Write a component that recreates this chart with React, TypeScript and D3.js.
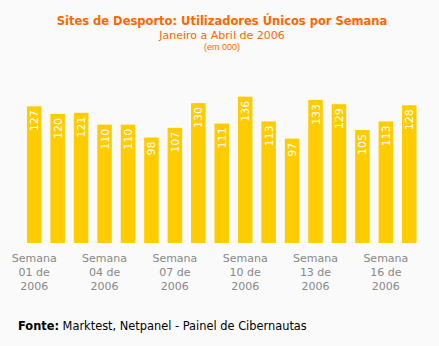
import React from "react";
import * as d3 from "d3";

const weeks = ["01","02","03","04","05","06","07","08","09","10","11","12","13","14","15","16","17"];
const values = [127,120,121,110,110,98,107,130,111,136,113,97,133,129,105,113,128];
const tickWeeks = ["01","04","07","10","13","16"];

const W = 439, H = 346;

export default function App() {
  const x = d3.scaleBand<string>().domain(weeks).range([22.5, 421]).paddingInner(0.38).paddingOuter(0.19);
  const y = d3.scaleLinear().domain([0, 150]).range([243, 81.6]);
  const font = "'DejaVu Sans', Verdana, sans-serif";
  return (
    <div style={{ position: "absolute", left: 0, top: 0 }}>
      <svg width={W} height={H} style={{ display: "block", background: "#FAFAFA" }}>
        <rect width={W} height={H} fill="#FAFAFA" />
        <text x={222} y={24.5} textAnchor="middle" fontFamily={font} fontWeight="bold" fontSize={11.5} fill="#FF6600">
          Sites de Desporto: Utilizadores Únicos por Semana
        </text>
        <text x={222} y={38.5} textAnchor="middle" fontFamily={font} fontSize={11} fill="#FF6600">
          Janeiro a Abril de 2006
        </text>
        <text x={222} y={50} textAnchor="middle" fontFamily="'Liberation Sans', Arial, sans-serif" fontSize={9} fill="#FF6600">
          (em 000)
        </text>
        {weeks.map((w, i) => {
          const bx = x(w)!;
          const by = y(values[i]);
          const cx = bx + x.bandwidth() / 2;
          return (
            <g key={w}>
              <rect x={bx} y={by} width={x.bandwidth()} height={y(0) - by} fill="#FFCC00" />
              <text
                transform={`translate(${cx + 4},${by + 4}) rotate(-90)`}
                textAnchor="end"
                fontFamily={font}
                fontSize={11}
                fill="#FFFFFF"
              >
                {values[i]}
              </text>
            </g>
          );
        })}
        {tickWeeks.map((w) => {
          const cx = x(w)! + x.bandwidth() / 2;
          return (
            <text key={w} textAnchor="middle" fontFamily={font} fontSize={11} fill="#888888">
              <tspan x={cx} y={262}>Semana</tspan>
              <tspan x={cx} y={276}>{w} de</tspan>
              <tspan x={cx} y={290}>2006</tspan>
            </text>
          );
        })}
        <text x={18} y={330} fontFamily={font} fontSize={11.4} fill="#000000">
          <tspan fontWeight="bold">Fonte:</tspan> Marktest, Netpanel - Painel de Cibernautas
        </text>
      </svg>
    </div>
  );
}
